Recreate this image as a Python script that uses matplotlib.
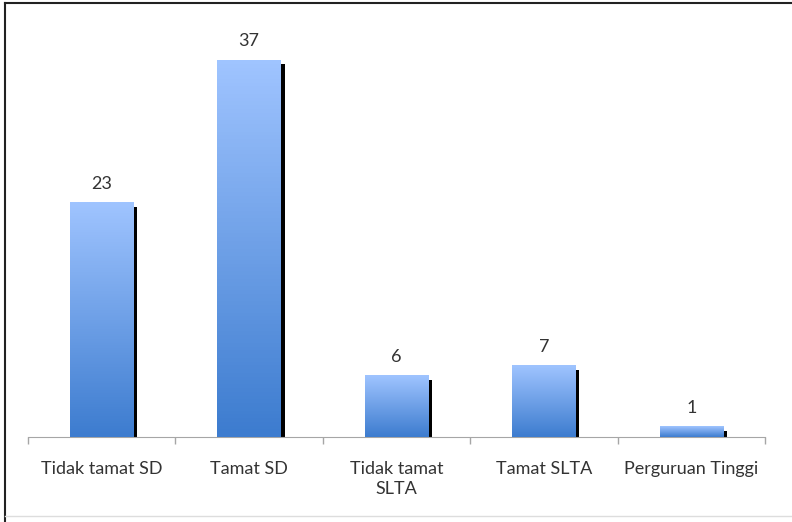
import matplotlib.pyplot as plt
import numpy as np
from matplotlib.colors import LinearSegmentedColormap
from matplotlib.lines import Line2D

categories = ["Tidak tamat SD", "Tamat SD", "Tidak tamat\nSLTA", "Tamat SLTA", "Perguruan Tinggi"]
values = [23, 37, 6, 7, 1]

plt.rcParams['font.family'] = ['Lato', 'DejaVu Sans']

fig = plt.figure(figsize=(7.92, 5.22), dpi=100)
ax = fig.add_axes([0.0354, 0.1628, 0.9306, 0.78])

grad = LinearSegmentedColormap.from_list("bar_grad", ["#3d7ccf", "#9fc4ff"])
x = np.arange(len(categories))
width = 0.43

bars = ax.bar(x, values, width=width, color="none", zorder=3)
for b in bars:
    x0, y0 = b.get_x(), b.get_y()
    w, h = b.get_width(), b.get_height()
    # shadow strip on the right edge
    ax.bar(x0 + w / 2 + 0.025, h - 0.4, width=w, color="black", zorder=2)
    img = np.linspace(0, 1, 100).reshape(-1, 1)
    ax.imshow(img, cmap=grad, aspect="auto", origin="lower",
              extent=(x0, x0 + w, y0, y0 + h), zorder=3)
    ax.annotate(f"{int(h)}", (x0 + w / 2, h), xytext=(0, 8), textcoords="offset points",
                ha="center", va="bottom", fontsize=13, color="#333333")

ax.set_xlim(-0.5, len(categories) - 0.5)
ax.set_ylim(0, 40)
ax.set_yticks([])
for s in ["top", "right", "left"]:
    ax.spines[s].set_visible(False)
ax.spines["bottom"].set_color("#a6a6a6")

ax.set_xticks(np.arange(len(categories) + 1) - 0.5, minor=False)
ax.set_xticklabels([])
ax.tick_params(axis="x", length=5, color="#a6a6a6", width=1)
ax.set_xticks(x, minor=True)
ax.set_xticklabels(categories, minor=True, fontsize=13, color="#333333", linespacing=1.3)
ax.tick_params(axis="x", which="minor", length=0, pad=17)

# outer frame (left and top visible)
fig.add_artist(Line2D([0.006, 0.006], [0, 0.995], transform=fig.transFigure, color="#222222", lw=1.5))
fig.add_artist(Line2D([0.006, 1], [0.995, 0.995], transform=fig.transFigure, color="#222222", lw=1.5))
fig.add_artist(Line2D([0.006, 1], [0.012, 0.012], transform=fig.transFigure, color="#dddddd", lw=1))

fig.savefig("out.png", dpi=100)
